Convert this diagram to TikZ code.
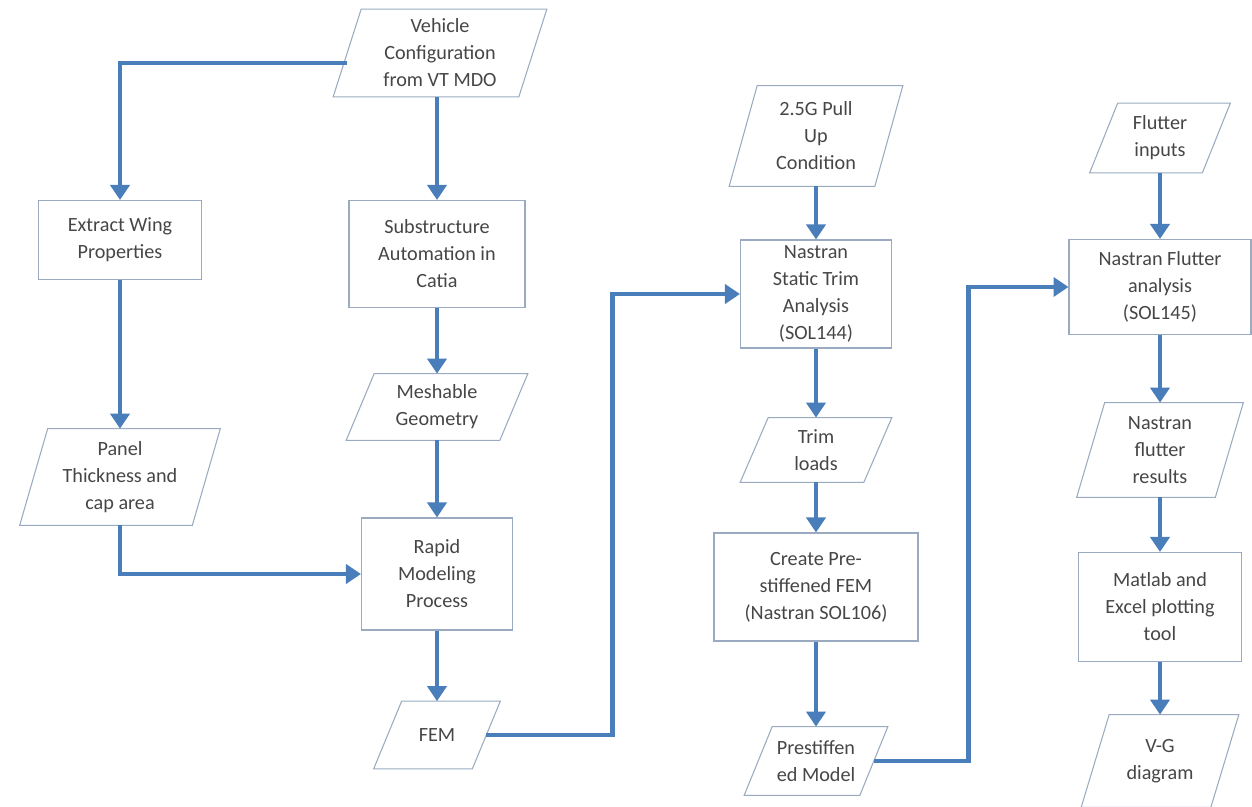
\documentclass[tikz,border=0pt]{standalone}
\usepackage{fontspec}
\setmainfont{Carlito}
\usetikzlibrary{arrows.meta}
\definecolor{flowblue}{HTML}{4A7EBB}
\definecolor{boxline}{HTML}{9AAAC0}
\definecolor{boxtext}{HTML}{464646}
\begin{document}
\begin{tikzpicture}[x=0.02cm,y=-0.02cm,
  every node/.style={font=\fontsize{11.5}{15.4}\selectfont,text=boxtext,align=center,inner sep=0pt},
  procbox/.style={draw=boxline,line width=0.6pt},
  databox/.style={append after command={\pgfextra{
      \draw[boxline,line width=0.6pt]
        ([xshift=0.28cm]\tikzlastnode.north west) -- ([xshift=0.28cm]\tikzlastnode.north east)
        -- ([xshift=-0.28cm]\tikzlastnode.south east) -- ([xshift=-0.28cm]\tikzlastnode.south west) -- cycle;}}},
  flow/.style={draw=flowblue,line width=2.8pt,-{Triangle[length=0.3cm,width=0.38cm]}}
]
\useasboundingbox (0,0) rectangle (1252,807);

% first column pair
\node (veh) at (440,53) [databox,minimum width=3.7cm,minimum height=1.74cm] {Vehicle\\Configuration\\from VT MDO};
\node (wing) at (120,240) [procbox,minimum width=3.26cm,minimum height=1.58cm] {Extract Wing\\Properties};
\node (sub) at (437,254) [procbox,minimum width=3.52cm,minimum height=2.14cm] {Substructure\\Automation in\\Catia};
\node (mesh) at (437,407) [databox,minimum width=3.06cm,minimum height=1.32cm] {Meshable\\Geometry};
\node (panel) at (120,477) [databox,minimum width=3.44cm,minimum height=1.92cm] {Panel\\Thickness and\\cap area};
\node (rapid) at (437,574) [procbox,minimum width=3.02cm,minimum height=2.24cm] {Rapid\\Modeling\\Process};
\node (fem) at (437,735) [databox,minimum width=1.96cm,minimum height=1.34cm] {FEM};

% static trim column
\node (pull) at (816,136) [databox,minimum width=2.9cm,minimum height=2cm] {2.5G Pull\\Up\\Condition};
\node (trimana) at (816,294) [procbox,minimum width=3.02cm,minimum height=2.16cm] {Nastran\\Static Trim\\Analysis\\(SOL144)};
\node (trim) at (816,450) [databox,minimum width=2.46cm,minimum height=1.28cm] {Trim\\loads};
\node (create) at (816,587) [procbox,minimum width=4.08cm,minimum height=2.16cm] {Create Pre-\\stiffened FEM\\(Nastran SOL106)};
\node (prest) at (816,761) [databox,minimum width=2.3cm,minimum height=1.36cm] {Prestiffen\\ed Model};

% flutter column
\node (finp) at (1160,138) [databox,minimum width=2.24cm,minimum height=1.38cm] {Flutter\\inputs};
\node (flut) at (1160,287) [procbox,minimum width=3.64cm,minimum height=1.9cm] {Nastran Flutter\\analysis\\(SOL145)};
\node (fres) at (1160,450) [databox,minimum width=2.76cm,minimum height=1.88cm] {Nastran\\flutter\\results};
\node (matlab) at (1160,607) [procbox,minimum width=3.26cm,minimum height=2.18cm] {Matlab and\\Excel plotting\\tool};
\node (vg) at (1160,761) [databox,minimum width=2.58cm,minimum height=1.84cm] {V-G\\diagram};

% connectors
\draw[flow] ([yshift=-0.2cm]veh.west) -| (wing.north);
\draw[flow] (veh.south -| sub.north) -- (sub.north);
\draw[flow] (wing.south) -- (panel.north);
\draw[flow] (sub.south) -- (mesh.north);
\draw[flow] (mesh.south) -- (rapid.north);
\draw[flow] (panel.south) |- (rapid.west);
\draw[flow] (rapid.south) -- (fem.north);
\draw[flow] (fem.east) -- ++(126,0) |- (trimana.west);
\draw[flow] (pull.south) -- (trimana.north);
\draw[flow] (trimana.south) -- (trim.north);
\draw[flow] (trim.south) -- (create.north);
\draw[flow] (create.south) -- (prest.north);
\draw[flow] (prest.east) -- ++(95,0) |- (flut.west);
\draw[flow] (finp.south) -- (flut.north);
\draw[flow] (flut.south) -- (fres.north);
\draw[flow] (fres.south) -- (matlab.north);
\draw[flow] (matlab.south) -- (vg.north);
\end{tikzpicture}
\end{document}
